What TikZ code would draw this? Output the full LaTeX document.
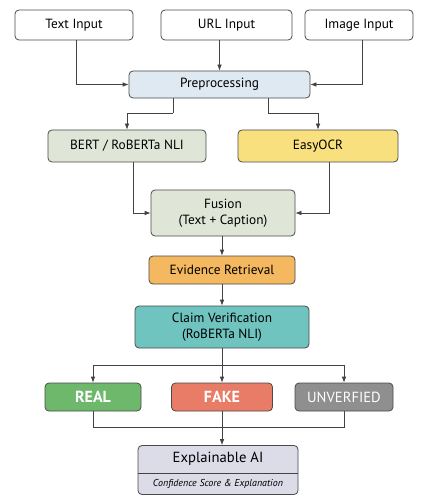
\documentclass[tikz,border=0pt]{standalone}
\usepackage{fontspec}
\setmainfont{PT Sans}
\usepackage{tikz}
\usetikzlibrary{positioning,arrows.meta,calc}
\definecolor{prepfill}{HTML}{DFE9F1}
\definecolor{sagefill}{HTML}{DFE6D8}
\definecolor{ocrfill}{HTML}{F9E07F}
\definecolor{evidfill}{HTML}{F4B860}
\definecolor{claimfill}{HTML}{6FC4BF}
\definecolor{realfill}{HTML}{6DB86B}
\definecolor{fakefill}{HTML}{E97C67}
\definecolor{unvfill}{HTML}{8F8F8F}
\definecolor{xaifill}{HTML}{DCDBE8}
\definecolor{edge}{HTML}{4A4A4A}
\tikzset{
  box/.style 2 args={
    draw=edge, line width=0.6pt, rounded corners=3pt, align=center,
    inner sep=0pt, font=\fontsize{10}{12}\selectfont,
    minimum width=#1*0.75pt, minimum height=#2*0.75pt
  },
  verdict/.style={text=white, font=\fontsize{12}{14}\selectfont\bfseries},
  flow/.style={draw=edge!90!black, line width=0.6pt, -{Latex[length=4.5pt,width=3.5pt]}},
  link/.style={draw=edge!90!black, line width=0.6pt}
}
\begin{document}
\begin{tikzpicture}[x=0.75pt, y=-0.75pt]
  \useasboundingbox[fill=white] (0,0) rectangle (425,495);

  % inputs
  \node (textin) [box={118}{30}, fill=white] at (74,25) {Text Input};
  \node (urlin) [box={131}{30}, fill=white] at (226.5,25) {URL Input};
  \node (imgin) [box={108}{30}, fill=white] at (359,25) {Image Input};

  \node (prep) [box={181}{27}, fill=prepfill] at (219.5,84.5) {Preprocessing};
  \draw[flow] ([xshift=2*0.75pt]textin.south) |- (prep.west);
  \draw[flow] (urlin.south -| prep.north) -- (prep.north);
  \draw[flow] ([xshift=3*0.75pt]imgin.south) |- (prep.east);

  % encoders
  \node (bert) [box={158}{32}, fill=sagefill] at (127,146) {BERT / RoBERTa NLI};
  \node (ocr) [box={160}{32}, fill=ocrfill] at (318,146) {EasyOCR};
  \coordinate (pl) at (173,113);
  \coordinate (pr) at (268,113);
  \draw[link] (prep.south -| pl) -- (pl);
  \draw[flow] (pl) -| (bert.north);
  \draw[link] (prep.south -| pr) -- (pr);
  \draw[flow] (pr) -| (ocr.north);

  \node (fusion) [box={144}{46}, fill=sagefill] at (223,213) {Fusion\\(Text + Caption)};
  \draw[flow] ([xshift=6*0.75pt]bert.south) |- (fusion.west);
  \draw[flow] ([xshift=11*0.75pt]ocr.south) |- (fusion.east);

  \node (evid) [box={146}{28}, fill=evidfill] at (222,270) {Evidence Retrieval};
  \node (claim) [box={174}{42}, fill=claimfill] at (222,327) {Claim Verification\\(RoBERTa NLI)};
  \draw[flow] (fusion.south -| evid.north) -- (evid.north);
  \draw[flow] (evid) -- (claim);

  % verdicts
  \node (real) [box={96}{28}, fill=realfill, verdict] at (93,397) {REAL};
  \node (fake) [box={101}{28}, fill=fakefill, verdict] at (222,397) {FAKE};
  \node (unv) [box={98}{28}, fill=unvfill, text=white, font=\fontsize{11}{13}\selectfont] at (344,397) {UNVERFIED};
  \coordinate (split) at (222,365);
  \draw[link] (claim.south) -- (split);
  \draw[flow] (split) -| (real.north);
  \draw[flow] (split) -- (fake.north);
  \draw[flow] (split) -| (unv.north);

  % explanation
  \node (xai) [box={160}{49}, fill=xaifill] at (218,470) {};
  \coordinate (join) at (222,427);
  \draw[link] (real.south) |- (join);
  \draw[link] (unv.south) |- (join);
  \draw[flow] (fake.south) -- (fake.south |- xai.north);
  \draw[link] ($(xai.west)+(0,3)$) -- ($(xai.east)+(0,3)$);
  \node (xaititle) [font=\fontsize{11}{13}\selectfont] at (218,459) {Explainable AI};
  \node (xainote) [font=\fontsize{7.5}{9}\selectfont\itshape] at (218,484) {Confidence Score \& Explanation};
\end{tikzpicture}
\end{document}
